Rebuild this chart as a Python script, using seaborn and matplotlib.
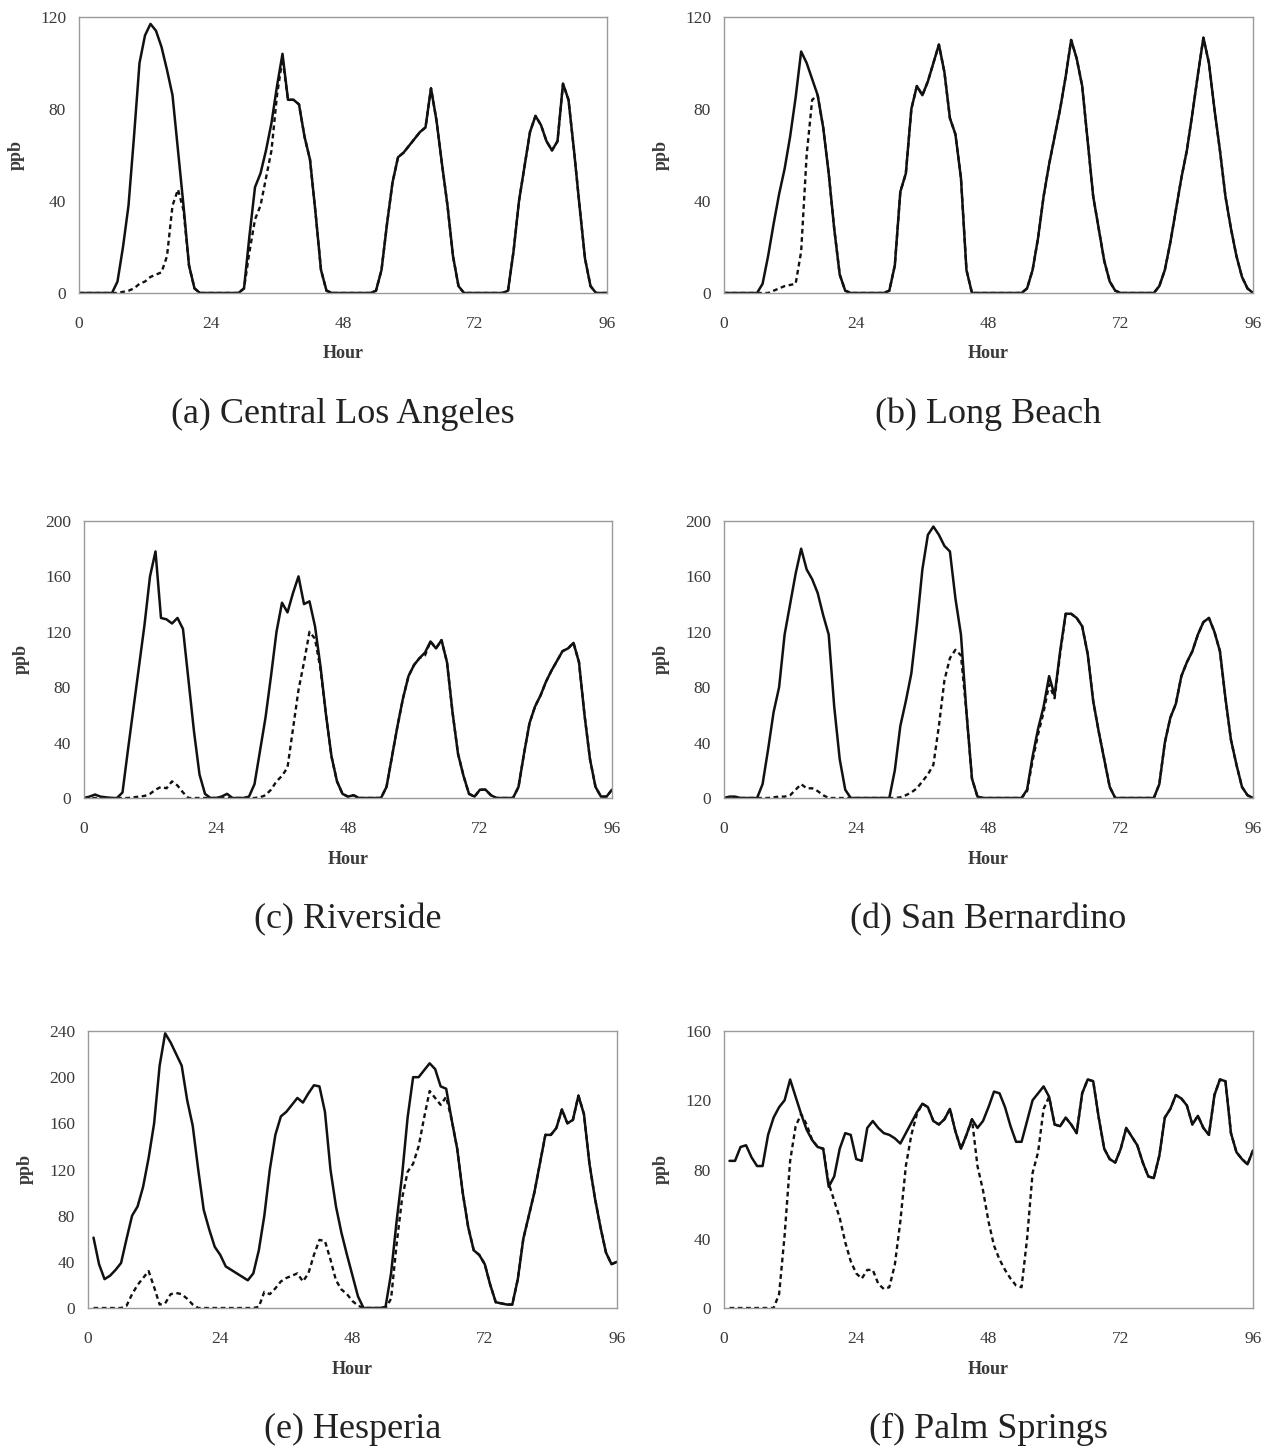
import numpy as np
import pandas as pd
import matplotlib
matplotlib.use("Agg")
import matplotlib.pyplot as plt
import seaborn as sns

HOURS = list(range(97))
X_TICKS = [0, 24, 48, 72, 96]
nan = np.nan

# (a) Central Los Angeles
SOLID_A = [0, 0, 0, 0, 0, 0, 0, 5, 20, 38, 68, 100, 112, 117, 114, 107, 97, 86, 62, 38,
           12, 2, 0, 0, 0, 0, 0, 0, 0, 0, 2, 25, 46, 52, 62, 74, 90, 104, 84, 84,
           82, 68, 58, 35, 10, 1, 0, 0, 0, 0, 0, 0, 0, 0, 1, 10, 30, 48, 59, 61,
           64, 67, 70, 72, 89, 75, 56, 38, 16, 3, 0, 0, 0, 0, 0, 0, 0, 0, 1, 18,
           40, 55, 70, 77, 73, 66, 62, 66, 91, 84, 62, 38, 15, 3, 0, 0, 0]
DASHED_A = [0, 0, 0, 0, 0, 0, 0, 0, 0.5, 1, 2, 4, 5, 7, 8, 9, 16, 38, 45, 36,
            12, 2, 0, 0, 0, 0, 0, 0, 0, 0, 2, 18, 32, 38, 50, 62, 86, 102, 84, 84,
            82, 68, 58, 35, 10, 1, 0, 0, 0, 0, 0, 0, 0, 0, 1, 10, 30, 48, 59, 61,
            64, 67, 70, 72, 89, 75, 56, 38, 16, 3, 0, 0, 0, 0, 0, 0, 0, 0, 1, 18,
            40, 55, 70, 77, 73, 66, 62, 66, 91, 84, 62, 38, 15, 3, 0, 0, 0]

# (b) Long Beach
SOLID_B = [0, 0, 0, 0, 0, 0, 0, 4, 16, 30, 43, 54, 68, 85, 105, 100, 93, 86, 72, 52,
           28, 8, 1, 0, 0, 0, 0, 0, 0, 0, 1, 12, 44, 52, 80, 90, 86, 92, 100, 108,
           96, 76, 69, 50, 10, 0, 0, 0, 0, 0, 0, 0, 0, 0, 0, 2, 10, 24, 42, 56,
           68, 80, 94, 110, 102, 90, 66, 42, 28, 14, 5, 1, 0, 0, 0, 0, 0, 0, 0, 3,
           10, 22, 36, 50, 62, 78, 95, 111, 100, 80, 62, 42, 28, 16, 7, 2, 0]
DASHED_B = [0, 0, 0, 0, 0, 0, 0, 0, 0, 1, 2, 3, 3.5, 4, 18, 60, 84, 86, 72, 52,
            28, 8, 1, 0, 0, 0, 0, 0, 0, 0, 1, 12, 44, 52, 80, 90, 86, 92, 100, 108,
            96, 76, 69, 50, 10, 0, 0, 0, 0, 0, 0, 0, 0, 0, 0, 2, 10, 24, 42, 56,
            68, 80, 94, 110, 102, 90, 66, 42, 28, 14, 5, 1, 0, 0, 0, 0, 0, 0, 0, 3,
            10, 22, 36, 50, 62, 78, 95, 111, 100, 80, 62, 42, 28, 16, 7, 2, 0]

# (c) Riverside
SOLID_C = [0, 1, 2.5, 1, 0.5, 0, 0, 4, 35, 65, 95, 125, 160, 178, 130, 129, 126, 130, 122, 85,
           48, 17, 3, 0, 0, 1, 3, 0, 0, 0, 1, 10, 34, 58, 88, 120, 141, 134, 148, 160,
           140, 142, 124, 95, 60, 30, 12, 3, 1, 2, 0, 0, 0, 0, 0, 8, 30, 52, 72, 88,
           96, 101, 105, 113, 108, 114, 98, 62, 32, 16, 3, 1, 6, 6, 2, 0, 0, 0, 0, 8,
           32, 54, 66, 74, 84, 92, 99, 106, 108, 112, 98, 60, 28, 8, 1, 1, 6]
DASHED_C = [0, 0, 0, 0, 0, 0, 0, 0, 0, 0.5, 1, 1.5, 3, 6, 8, 7, 12, 9, 4, 0,
            0, 0, 0, 0, 0, 0, 0, 0, 0, 0, 0, 0, 0.5, 2, 6, 12, 16, 22, 50, 78,
            98, 120, 115, 93, 60, 30, 12, 3, 1, 2, 0, 0, 0, 0, 0, 8, 30, 52, 72, 88,
            96, 101, 103, 113, 108, 114, 98, 62, 32, 16, 3, 1, 6, 6, 2, 0, 0, 0, 0, 8,
            32, 54, 66, 74, 84, 92, 99, 106, 108, 112, 98, 60, 28, 8, 1, 1, 6]

# (d) San Bernardino
SOLID_D = [0, 1, 1, 0, 0, 0, 0, 10, 35, 62, 80, 118, 140, 162, 180, 165, 158, 148, 132, 118,
           66, 28, 6, 0, 0, 0, 0, 0, 0, 0, 0, 20, 52, 70, 90, 125, 165, 190, 196, 190,
           182, 178, 144, 118, 62, 14, 1, 0, 0, 0, 0, 0, 0, 0, 0, 6, 30, 50, 66, 88,
           74, 106, 133, 133, 130, 124, 104, 70, 48, 28, 8, 0, 0, 0, 0, 0, 0, 0, 0, 10,
           40, 58, 68, 88, 98, 106, 118, 127, 130, 120, 106, 72, 42, 24, 8, 2, 0]
DASHED_D = [0, 0, 0, 0, 0, 0, 0, 0, 0, 0.5, 1, 1, 2, 6, 10, 7, 7, 5, 2, 0,
            0, 0, 0, 0, 0, 0, 0, 0, 0, 0, 0, 0, 0.5, 2, 4, 7, 12, 17, 24, 52,
            85, 101, 107, 103, 62, 14, 1, 0, 0, 0, 0, 0, 0, 0, 0, 5, 27, 46, 62, 82,
            72, 104, 133, 133, 130, 124, 104, 70, 48, 28, 8, 0, 0, 0, 0, 0, 0, 0, 0, 10,
            40, 58, 68, 88, 98, 106, 118, 127, 130, 120, 106, 72, 42, 24, 8, 2, 0]

# (e) Hesperia
SOLID_E = [nan, 61, 38, 25, 28, 33, 39, 60, 80, 88, 105, 130, 160, 210, 238, 230, 220, 210, 180, 158,
           120, 85, 68, 53, 46, 36, 33, 30, 27, 24, 30, 50, 80, 120, 150, 166, 170, 176, 182, 178,
           186, 193, 192, 170, 120, 88, 65, 46, 28, 10, 0, 0, 0, 0, 1, 30, 75, 115, 165, 200,
           200, 206, 212, 207, 192, 190, 163, 138, 100, 70, 50, 46, 38, 20, 5, 4, 3, 3, 25, 60,
           80, 100, 125, 150, 150, 156, 172, 160, 163, 184, 168, 125, 95, 70, 48, 38, 40]
DASHED_E = [nan, 0, 0, 0, 0, 0, 0, 2, 12, 20, 26, 32, 18, 3, 4, 12, 13, 12, 8, 3,
            0, 0, 0, 0, 0, 0, 0, 0, 0, 0, 0, 1, 14, 12, 17, 23, 26, 28, 30, 23,
            30, 46, 59, 58, 42, 24, 16, 12, 6, 2, 0, 0, 0, 0, 0, 8, 55, 95, 118, 125,
            140, 165, 188, 182, 176, 183, 163, 138, 100, 70, 50, 46, 38, 20, 5, 4, 3, 3, 25, 60,
            80, 100, 125, 150, 150, 156, 172, 160, 163, 184, 168, 125, 95, 70, 48, 38, 40]

# (f) Palm Springs
SOLID_F = [nan, 85, 85, 93, 94, 87, 82, 82, 100, 110, 116, 120, 132, 122, 112, 103, 97, 93, 92, 70,
           76, 92, 101, 100, 86, 85, 104, 108, 104, 101, 100, 98, 95, 101, 107, 113, 118, 116, 108, 106,
           109, 115, 102, 92, 100, 109, 104, 108, 116, 125, 124, 116, 105, 96, 96, 108, 120, 124, 128, 122,
           106, 105, 110, 106, 101, 124, 132, 131, 110, 92, 86, 84, 92, 104, 99, 94, 84, 76, 75, 88,
           110, 115, 123, 121, 117, 106, 111, 104, 100, 123, 132, 131, 101, 90, 86, 83, 91]
DASHED_F = [nan, 0, 0, 0, 0, 0, 0, 0, 0, 0, 8, 42, 85, 105, 112, 106, 97, 93, 92, 72,
            62, 52, 38, 27, 20, 17, 22, 22, 14, 11, 12, 25, 50, 82, 100, 112, 118, 116, 108, 106,
            109, 115, 102, 92, 100, 109, 82, 68, 50, 36, 28, 22, 17, 13, 12, 40, 78, 90, 115, 122,
            106, 105, 110, 106, 101, 124, 132, 131, 110, 92, 86, 84, 92, 104, 99, 94, 84, 76, 75, 88,
            110, 115, 123, 121, 117, 106, 111, 104, 100, 123, 132, 131, 101, 90, 86, 83, 91]

PANELS = [
    ("(a) Central Los Angeles", SOLID_A, DASHED_A, [0, 40, 80, 120]),
    ("(b) Long Beach", SOLID_B, DASHED_B, [0, 40, 80, 120]),
    ("(c) Riverside", SOLID_C, DASHED_C, [0, 40, 80, 120, 160, 200]),
    ("(d) San Bernardino", SOLID_D, DASHED_D, [0, 40, 80, 120, 160, 200]),
    ("(e) Hesperia", SOLID_E, DASHED_E, [0, 40, 80, 120, 160, 200, 240]),
    ("(f) Palm Springs", SOLID_F, DASHED_F, [0, 40, 80, 120, 160]),
]

# axes boxes in pixels: left, right, top, bottom
W, H = 1269, 1448
BOXES = [
    (79, 607, 17, 293), (724, 1253, 17, 293),
    (84, 612, 521, 798), (724, 1253, 521, 798),
    (88, 617, 1031, 1308), (724, 1253, 1031, 1308),
]

sns.set_style("white")
plt.rcParams['font.family'] = ['Liberation Serif', 'DejaVu Serif']

TEXT_COL = '#3a3a3a'
SPINE_COL = '#9a9a9a'


def plot_panel(fig, box, title, solid, dashed, yticks):
    l, r, t, b = box
    ax = fig.add_axes([l / W, 1 - b / H, (r - l) / W, (b - t) / H])
    df = pd.DataFrame({'hour': HOURS, 'solid': solid, 'dashed': dashed})

    sns.lineplot(data=df, x='hour', y='dashed', ax=ax, color='#111111',
                 linewidth=1.7, linestyle=(0, (2, 1.5)))
    sns.lineplot(data=df, x='hour', y='solid', ax=ax, color='#111111', linewidth=1.8)

    ax.set_xlim(0, 96)
    ax.set_ylim(0, yticks[-1])
    ax.set_xticks(X_TICKS)
    ax.set_yticks(yticks)
    ax.tick_params(axis='both', labelsize=12.5, colors=SPINE_COL, labelcolor=TEXT_COL,
                   length=4.3, width=1, direction='out')
    ax.tick_params(axis='x', pad=12)
    ax.tick_params(axis='y', pad=5)
    for s in ax.spines.values():
        s.set_color(SPINE_COL)
        s.set_linewidth(1)

    ax.set_xlabel('Hour', fontsize=13, fontweight='bold', color=TEXT_COL)
    ax.set_ylabel('ppb', fontsize=13, fontweight='bold', color=TEXT_COL)
    ax.xaxis.set_label_coords(0.5, -0.19)
    ax.yaxis.set_label_coords(-0.102, 0.5)

    ax.text(0.5, -0.44, title, transform=ax.transAxes, ha='center', va='center',
            fontsize=26, color='#222222')
    return ax


fig = plt.figure(figsize=(W / 100, H / 100), dpi=100)
for box, (title, solid, dashed, yticks) in zip(BOXES, PANELS):
    plot_panel(fig, box, title, solid, dashed, yticks)

fig.savefig('out.png', dpi=100)
plt.close(fig)
